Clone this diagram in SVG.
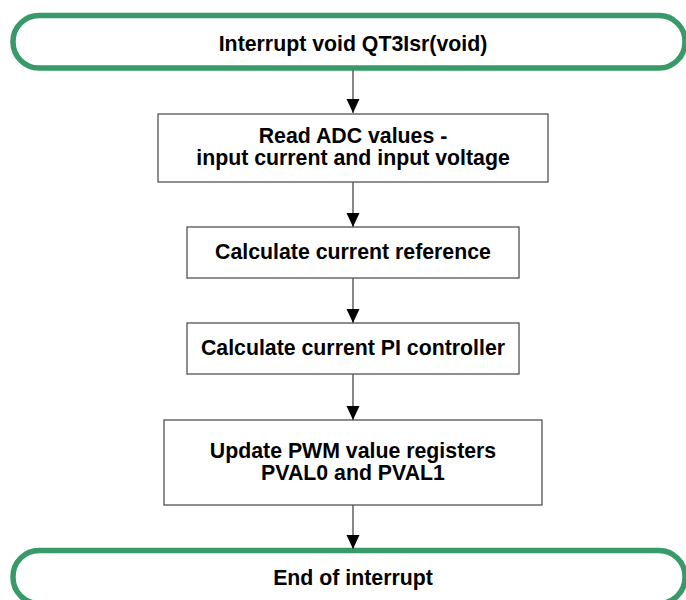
<svg xmlns="http://www.w3.org/2000/svg" width="686" height="600" viewBox="0 0 686 600">
<style>
.term{fill:#fff;stroke:#389a69;stroke-width:5.5}
.box{fill:#fff;stroke:#444;stroke-width:1.2}
.lbl{font-family:"Liberation Sans",Arial,sans-serif;font-weight:bold;font-size:21.3px;fill:#000;text-anchor:middle}
.edge{stroke:#555;stroke-width:1.4;fill:none;marker-end:url(#ah)}
</style>
<defs>
<marker id="ah" markerUnits="userSpaceOnUse" markerWidth="14" markerHeight="14" viewBox="0 0 14 14" refX="14" refY="7" orient="auto">
<path d="M0,0.5 L14,7 L0,13.5 Z" fill="#000"/>
</marker>
</defs>
<rect width="686" height="600" fill="#fff"/>
<g id="start">
<rect class="term" x="13" y="15.5" width="672" height="52.5" rx="26"/>
<text class="lbl" x="353" y="50.5">Interrupt void QT3Isr(void)</text>
</g>
<g id="read">
<rect class="box" x="158" y="114" width="390" height="68"/>
<text class="lbl" x="353" y="143">Read ADC values -</text>
<text class="lbl" x="353" y="165">input current and input voltage</text>
</g>
<g id="ref">
<rect class="box" x="187" y="227" width="332" height="51"/>
<text class="lbl" x="353" y="259">Calculate current reference</text>
</g>
<g id="pi">
<rect class="box" x="187" y="323" width="332" height="51"/>
<text class="lbl" x="353" y="355">Calculate current PI controller</text>
</g>
<g id="pwm">
<rect class="box" x="164" y="420" width="378" height="85"/>
<text class="lbl" x="353" y="458">Update PWM value registers</text>
<text class="lbl" x="353" y="480">PVAL0 and PVAL1</text>
</g>
<g id="end">
<rect class="term" x="13" y="550.5" width="672" height="53" rx="26"/>
<text class="lbl" x="353" y="584.5">End of interrupt</text>
</g>
<g id="connectors">
<line class="edge" x1="353" y1="70" x2="353" y2="113"/>
<line class="edge" x1="353" y1="182" x2="353" y2="227"/>
<line class="edge" x1="353" y1="278" x2="353" y2="323"/>
<line class="edge" x1="353" y1="374" x2="353" y2="420"/>
<line class="edge" x1="353" y1="505" x2="353" y2="549"/>
</g>
</svg>
